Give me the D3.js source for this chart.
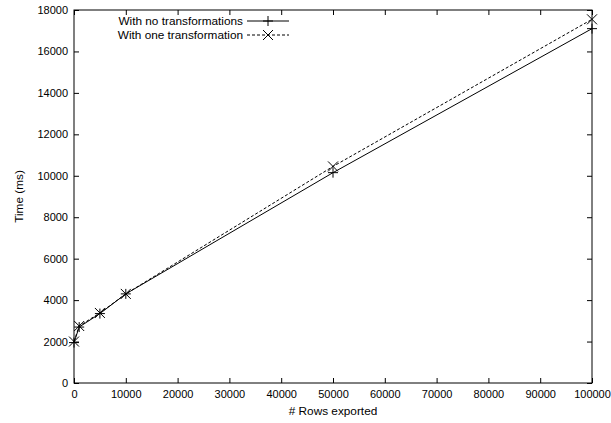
<!DOCTYPE html>
<html>
<head>
<meta charset="utf-8">
<script src="https://cdn.jsdelivr.net/npm/d3@7"></script>
<style>
body { margin: 0; background: #fff; }
text { font-family: "Liberation Sans", Arial, sans-serif; }
</style>
</head>
<body>
<svg width="611" height="423"></svg>
<script>

var rows = [0, 1000, 5000, 10000, 50000, 100000];
var noTransform = [1950, 2700, 3350, 4300, 10150, 17100];
var oneTransform = [2000, 2750, 3380, 4300, 10450, 17550];
var seriesNames = ["With no transformations", "With one transformation"];
var xTicks = [0, 10000, 20000, 30000, 40000, 50000, 60000, 70000, 80000, 90000, 100000];
var yTicks = [0, 2000, 4000, 6000, 8000, 10000, 12000, 14000, 16000, 18000];

var svg = d3.select("svg"),
    margin = {top: 10, right: 19, bottom: 40, left: 74},
    width = 611 - margin.left - margin.right,
    height = 423 - margin.top - margin.bottom;

var g = svg.append("g")
    .attr("transform", "translate(" + margin.left + "," + margin.top + ")");

var x = d3.scaleLinear().domain([0, 100000]).range([0, width]);
var y = d3.scaleLinear().domain([0, 18000]).range([height, 0]);

function styleAxis(sel) {
  sel.select(".domain").remove();
  sel.selectAll("line").attr("stroke", "#000");
  sel.selectAll("text").attr("font-size", 11).attr("fill", "#000")
      .style("font-family", '"Liberation Sans", Arial, sans-serif');
}

// ticks point inward, mirrored on top and right like gnuplot
g.append("g")
    .attr("transform", "translate(0," + height + ")")
    .call(d3.axisBottom(x).tickValues(xTicks).tickSize(-5).tickPadding(7).tickFormat(d3.format("d")))
    .call(styleAxis);
g.append("g")
    .call(d3.axisTop(x).tickValues(xTicks).tickSize(-5).tickFormat(""))
    .call(styleAxis);
g.append("g")
    .call(d3.axisLeft(y).tickValues(yTicks).tickSize(-5).tickPadding(6).tickFormat(d3.format("d")))
    .call(styleAxis);
g.append("g")
    .attr("transform", "translate(" + width + ",0)")
    .call(d3.axisRight(y).tickValues(yTicks).tickSize(-5).tickFormat(""))
    .call(styleAxis);

g.append("rect")
    .attr("width", width)
    .attr("height", height)
    .attr("fill", "none")
    .attr("stroke", "#000");

var labelSize = 11.8;

svg.append("text")
    .attr("x", margin.left + width / 2)
    .attr("y", 415)
    .attr("text-anchor", "middle")
    .attr("font-size", labelSize)
    .text("# Rows exported");

svg.append("text")
    .attr("transform", "translate(23," + (margin.top + height / 2) + ") rotate(-90)")
    .attr("text-anchor", "middle")
    .attr("font-size", labelSize)
    .text("Time (ms)");

var series = [
  {name: seriesNames[0], values: noTransform, dash: null, marker: "plus"},
  {name: seriesNames[1], values: oneTransform, dash: "3,2", marker: "cross"}
];

var line = d3.line()
    .x(function(d) { return x(d[0]); })
    .y(function(d) { return y(d[1]); });

function marker(sel, type, s) {
  var d = type === "plus"
      ? "M" + (-s) + ",0H" + s + "M0," + (-s) + "V" + s
      : "M" + (-s) + "," + (-s) + "L" + s + "," + s + "M" + (-s) + "," + s + "L" + s + "," + (-s);
  sel.append("path").attr("d", d).attr("stroke", "#000").attr("fill", "none");
}

series.forEach(function(s) {
  var pts = rows.map(function(r, i) { return [r, s.values[i]]; });
  g.append("path")
      .datum(pts)
      .attr("fill", "none")
      .attr("stroke", "#000")
      .attr("stroke-dasharray", s.dash)
      .attr("d", line);
  pts.forEach(function(p) {
    var m = g.append("g").attr("transform", "translate(" + x(p[0]) + "," + y(p[1]) + ")");
    marker(m, s.marker, 5);
  });
});

// legend
var legend = svg.append("g");
series.forEach(function(s, i) {
  var ly = 21 + i * 14;
  legend.append("text")
      .attr("x", 243)
      .attr("y", ly)
      .attr("dy", "0.35em")
      .attr("text-anchor", "end")
      .attr("font-size", labelSize)
      .text(s.name);
  legend.append("line")
      .attr("x1", 247).attr("x2", 289)
      .attr("y1", ly).attr("y2", ly)
      .attr("stroke", "#000")
      .attr("stroke-dasharray", s.dash);
  var m = legend.append("g").attr("transform", "translate(268," + ly + ")");
  marker(m, s.marker, 5);
});

</script>
</body>
</html>
